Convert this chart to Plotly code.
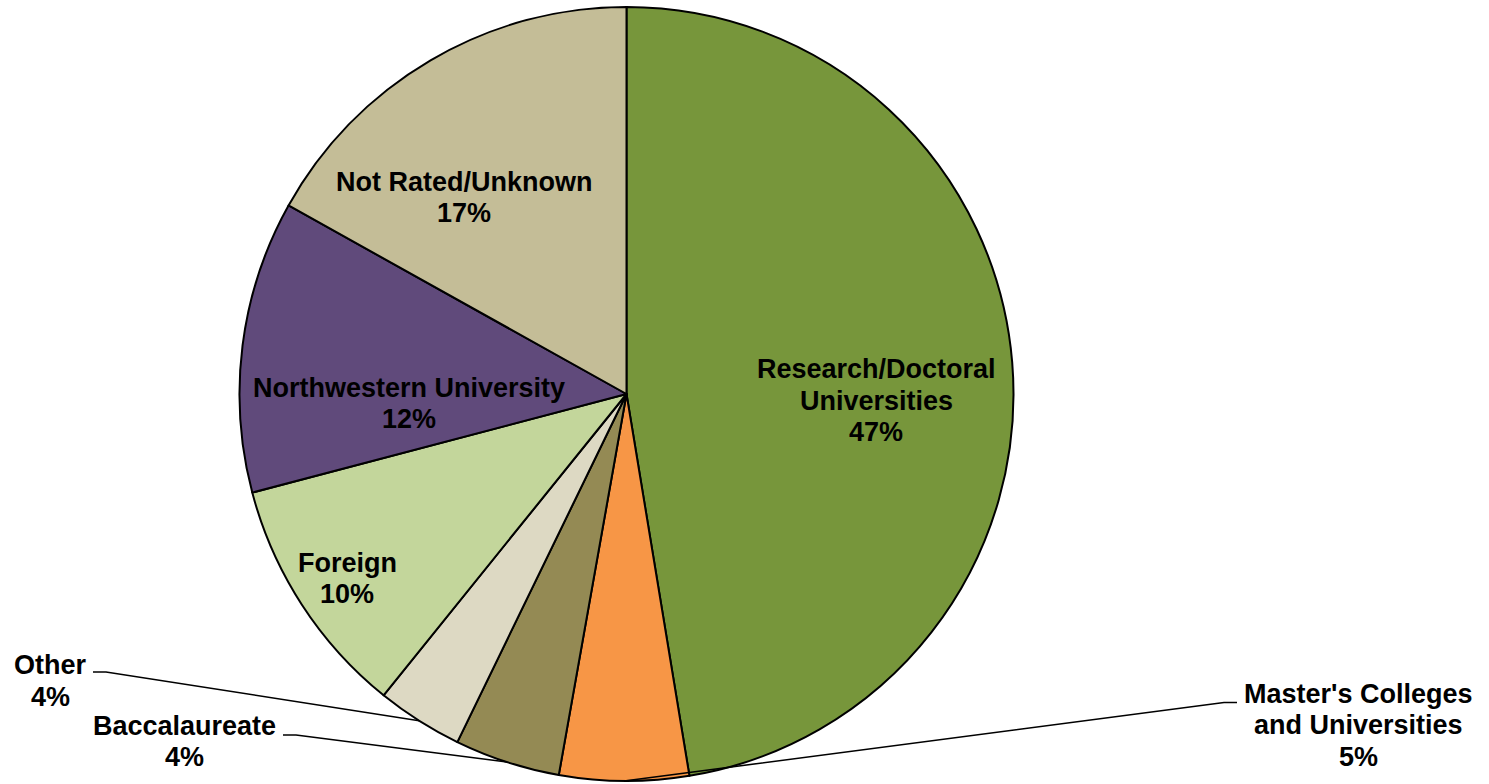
import math
import plotly.graph_objects as go

W, H = 1489, 784

categories = [
    "Research/Doctoral Universities",
    "Master's Colleges and Universities",
    "Baccalaureate",
    "Other",
    "Foreign",
    "Northwestern University",
    "Not Rated/Unknown",
]
label_lines = [
    ["Research/Doctoral", "Universities"],
    ["Master's Colleges", "and Universities"],
    ["Baccalaureate"],
    ["Other"],
    ["Foreign"],
    ["Northwestern University"],
    ["Not Rated/Unknown"],
]
values = [47.4, 5.4, 4.4, 3.6, 10.1, 12.2, 16.9]
colors = ["#77963B", "#F79646", "#948A54", "#DDD9C3", "#C3D69B", "#604A7B", "#C4BD97"]

# label layout: x centre and y centre of first line (pixels), line pitch
label_pos = [(876.5, 369), (1358, 693.5), (184, 725.5), (50, 665), (347, 562.5), (409, 387.5), (464, 181.5)]
PITCH = 31.7
# leader line anchor (label side) for outside labels, None for inside
leader_anchor = [None, (1237, 702.5), (283, 735), (93, 672), None, None, None]

# pie geometry (pixels)
cx, cy, r = 626.5, 394, 387

fig = go.Figure(go.Pie(
    labels=categories,
    values=values,
    sort=False,
    direction="clockwise",
    rotation=0,
    marker=dict(colors=colors, line=dict(color="black", width=2)),
    textinfo="none",
    hoverinfo="label+percent",
    domain=dict(x=[(cx - r) / W, (cx + r) / W], y=[1 - (cy + r) / H, 1 - (cy - r) / H]),
    showlegend=False,
))

def px2paper(x, y):
    return x / W, 1 - y / H

FONT = dict(family="Liberation Sans, Arial, sans-serif", size=27, color="black")

total = sum(values)
cum = 0
annotations = []
shapes = []
for lines, v, (lx, ly), anc in zip(label_lines, values, label_pos, leader_anchor):
    mid = (cum + v / 2) / total * 2 * math.pi
    cum += v
    pct = round(v / total * 100)
    all_lines = lines + [f"{pct}%"]
    for i, t in enumerate(all_lines):
        ax, ay = px2paper(lx, ly + i * PITCH)
        annotations.append(dict(
            x=ax, y=ay, xref="paper", yref="paper", showarrow=False,
            text=f"<b>{t}</b>", align="center",
            xanchor="center", yanchor="middle", font=FONT,
        ))
    if anc is not None:
        ex = cx + r * math.sin(mid)
        ey = cy - r * math.cos(mid)
        sx = anc[0] + (13 if ex > anc[0] else -13)
        p0 = px2paper(*anc)
        p1 = px2paper(sx, anc[1])
        p2 = px2paper(ex, ey)
        shapes.append(dict(
            type="path", xref="paper", yref="paper",
            path=f"M {p0[0]} {p0[1]} L {p1[0]} {p1[1]} L {p2[0]} {p2[1]}",
            line=dict(color="black", width=1.5),
        ))

fig.update_layout(
    width=W, height=H,
    margin=dict(l=0, r=0, t=0, b=0),
    paper_bgcolor="white", plot_bgcolor="white",
    annotations=annotations,
    shapes=shapes,
)

fig.write_html(
    "out.html",
    config={"displayModeBar": False},
    post_script="document.body.style.margin='0';document.documentElement.style.overflow='hidden';",
)
